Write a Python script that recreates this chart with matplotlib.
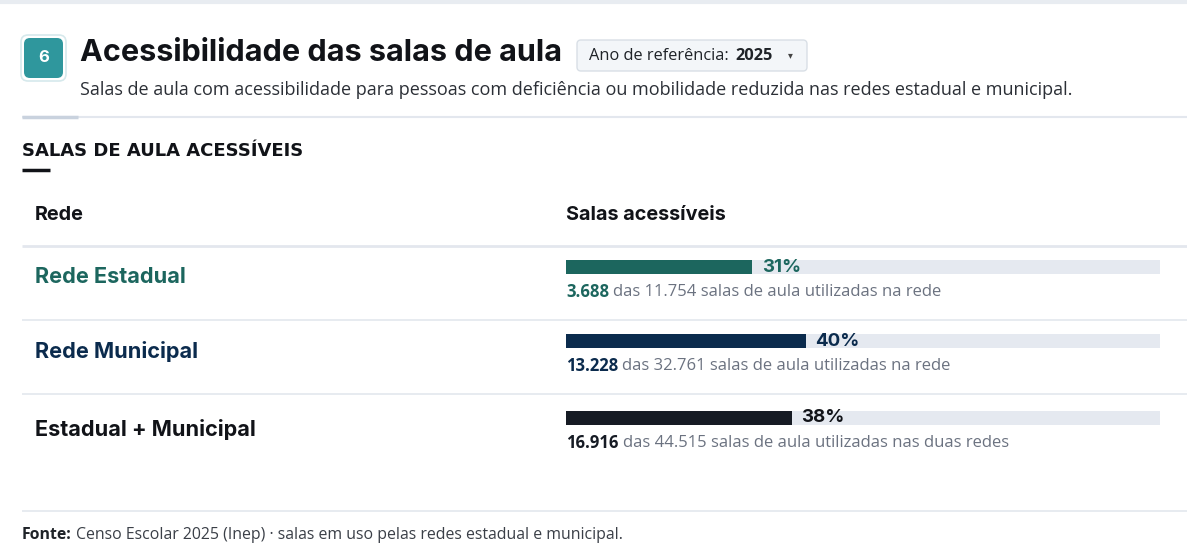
import matplotlib.pyplot as plt
from matplotlib.patches import FancyBboxPatch

# dados
redes = ["Rede Estadual", "Rede Municipal", "Estadual + Municipal"]
acessiveis = [3688, 13228, 16916]
totais = [11754, 32761, 44515]
sufixos = ["na rede", "na rede", "nas duas redes"]
cores = ["#1c665e", "#0b2b4d", "#161b24"]

W, H = 1187, 560
HEAD = "Inter"
BODY = "Open Sans"
GREY = "#6b7280"
LINE = "#e3e7ee"


def fmt(n):
    return f"{n:,}".replace(",", ".")


def pixel_axes(fig, x0, y0, x1, y1):
    """Axes placed by pixel box (top-left origin)."""
    return fig.add_axes([x0 / W, 1 - y1 / H, (x1 - x0) / W, (y1 - y0) / H])


fig = plt.figure(figsize=(W / 100, H / 100), dpi=100)
ax = fig.add_axes([0, 0, 1, 1])
ax.set_xlim(0, W)
ax.set_ylim(H, 0)
ax.axis("off")

# faixa superior
ax.plot([0, W], [2, 2], color="#e8ecf1", lw=3, solid_capstyle="butt")

# selo com numero
ax.add_patch(FancyBboxPatch((21, 35), 45, 46, boxstyle="round,pad=0,rounding_size=7",
                            fc="white", ec="#d6e9ec", lw=1.2))
ax.add_patch(FancyBboxPatch((24, 38), 39, 40, boxstyle="round,pad=0,rounding_size=6",
                            fc="#2f979d", ec="none"))
ax.text(43.5, 58, "6", color="white", fontsize=12, fontweight="bold", family=HEAD,
        ha="center", va="center")

# titulo
ax.text(80, 53, "Acessibilidade das salas de aula", fontsize=22, fontweight="bold",
        family=HEAD, color="#111318", va="center")

# seletor de ano
ax.add_patch(FancyBboxPatch((577, 40), 230, 31, boxstyle="round,pad=0,rounding_size=4",
                            fc="#f3f6f9", ec="#d9dfe6", lw=1))
t = ax.text(589, 55.5, "Ano de referência:", fontsize=11.8, family=BODY, color="#1f2328",
            va="center")
ax.annotate("2025", xy=(1, 0.5), xycoords=t, xytext=(5, 0), textcoords="offset points",
            fontsize=11.8, fontweight="bold", family=BODY, color="#1f2328", va="center")
ax.text(790, 55, "▾", fontsize=7, family="DejaVu Sans", color="#444", ha="center",
        va="center")

# subtitulo
ax.text(80, 90, "Salas de aula com acessibilidade para pessoas com deficiência ou mobilidade "
        "reduzida nas redes estadual e municipal.", fontsize=13, family=BODY,
        color="#2b2f36", va="center")

# linha divisoria
ax.plot([22, W], [117, 117], color=LINE, lw=1.5, solid_capstyle="butt")
ax.plot([22, 78], [117, 117], color="#c9d2de", lw=2.5, solid_capstyle="butt")

# titulo da secao
ax.text(22, 151, "SALAS DE AULA ACESSÍVEIS", fontsize=13, fontweight="bold",
        family="DejaVu Sans", color="#111318", va="center")
ax.plot([22, 50], [169.5, 169.5], color="#111318", lw=2.5, solid_capstyle="butt")

# cabecalho da tabela
ax.text(35, 215, "Rede", fontsize=14.3, fontweight="bold", family=HEAD, color="#111318",
        va="center")
ax.text(566, 215, "Salas acessíveis", fontsize=14.3, fontweight="bold", family=HEAD,
        color="#111318", va="center")
ax.plot([22, W], [246, 246], color=LINE, lw=2, solid_capstyle="butt")

row_tops = [246, 320, 394]
bar_offsets = [21, 21, 24]
for i, rede in enumerate(redes):
    top = row_tops[i]
    if i > 0:
        ax.plot([22, W], [top, top], color=LINE, lw=1.2, solid_capstyle="butt")
    label_y = top + 31 if i < 2 else top + 36
    ax.text(35, label_y, rede, fontsize=15.6, fontweight="bold", family=HEAD,
            color=cores[i] if i < 2 else "#111318", va="center")

    # barra
    yc = top + bar_offsets[i]
    bax = pixel_axes(fig, 566, yc - 8, 1160, yc + 8)
    pct = acessiveis[i] / totais[i] * 100
    bax.barh([0], [100], height=0.9, color="#e5e9f0")
    bax.barh([0], [pct], height=0.9, color=cores[i])
    bax.set_xlim(0, 100)
    bax.set_ylim(-0.5, 0.5)
    bax.axis("off")
    bax.annotate(f"{pct:.0f}%", xy=(pct, 0), xytext=(7, 0), textcoords="offset points",
                 fontsize=13.5, fontweight="bold", family=HEAD,
                 color=cores[i] if i < 2 else "#111318", va="center", ha="left")

    # detalhe
    dy = yc + 25
    t = ax.text(566, dy, fmt(acessiveis[i]), fontsize=12, fontweight="bold", family=BODY,
                color=cores[i], va="center")
    ax.annotate(f"das {fmt(totais[i])} salas de aula utilizadas {sufixos[i]}",
                xy=(1, 0.5), xycoords=t, xytext=(3, 0), textcoords="offset points",
                fontsize=12, family=BODY, color=GREY, va="center")

# rodape
ax.plot([22, W], [511, 511], color=LINE, lw=1.2, solid_capstyle="butt")
t = ax.text(22, 535, "Fonte:", fontsize=11.4, fontweight="bold", family=BODY,
            color="#1f2328", va="center")
ax.annotate("Censo Escolar 2025 (Inep) · salas em uso pelas redes estadual e municipal.",
            xy=(1, 0.5), xycoords=t, xytext=(3, 0), textcoords="offset points",
            fontsize=11.4, family=BODY, color="#3a3f47", va="center")

fig.savefig("out.png", dpi=100, facecolor="white")
